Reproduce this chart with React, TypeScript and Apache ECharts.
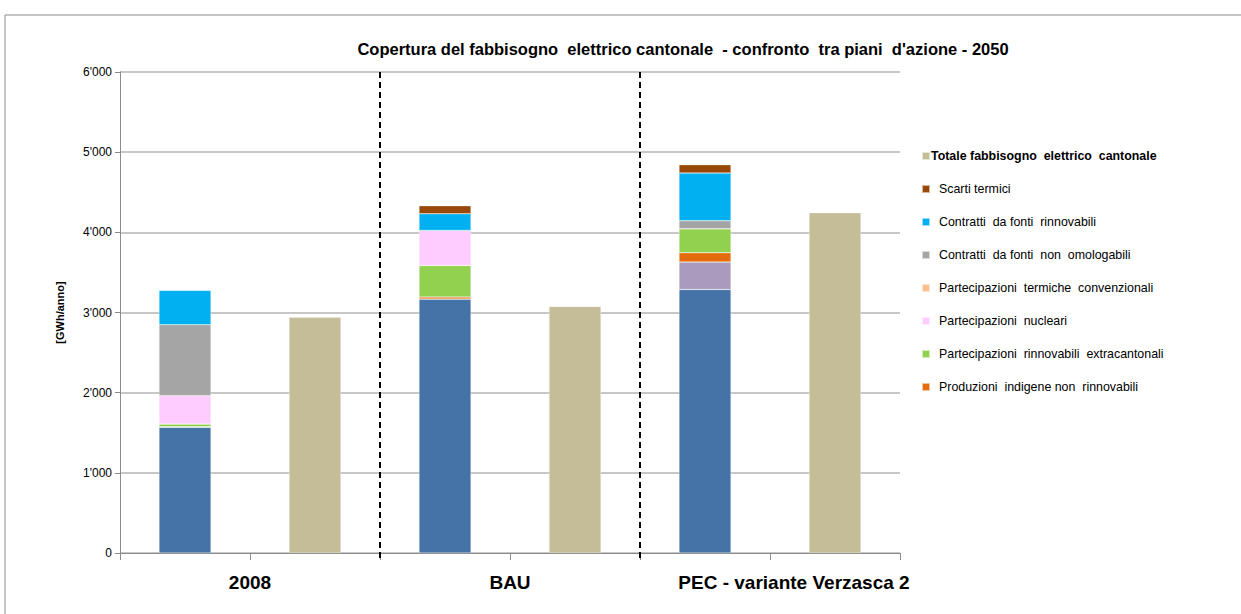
import React, { useEffect, useRef } from "react";
import * as echarts from "echarts";

const categories = ["2008", "2008T", "BAU", "BAUT", "PEC", "PECT"];
const groupLabels = ["2008", "BAU", "PEC - variante Verzasca 2"];
const yTicks = [0, 1000, 2000, 3000, 4000, 5000, 6000];
const separators = [2, 4];

const prodIndigeneRinn = [1570, null, 3167, null, 3287, null];
const efficienza = [0, null, 0, null, 342, null];
const prodIndigeneNonRinn = [5, null, 25, null, 116, null];
const partRinnExtra = [35, null, 395, null, 300, null];
const partTermicheConv = [0, null, 0, null, 0, null];
const partNucleari = [353, null, 437, null, 0, null];
const contrNonOmolog = [885, null, 0, null, 100, null];
const contrRinn = [428, null, 208, null, 595, null];
const scartiTermici = [0, null, 100, null, 104, null];
const totale = [null, 2940, null, 3075, null, 4245];

const FONT = "'Liberation Sans', Arial, sans-serif";

export default function App() {
  const ref = useRef<HTMLDivElement>(null);
  useEffect(() => {
    const chart = echarts.init(ref.current!, null, { renderer: "svg" });
    const stacked = (name: string, data: any[], color: string) => ({
      name,
      type: "bar",
      stack: "s",
      data,
      barWidth: "40%",
      barGap: "-100%",
      itemStyle: { color, borderColor: "rgba(255,255,255,0.6)", borderWidth: 0.5 },
      xAxisIndex: 0,
      yAxisIndex: 0,
    });
    chart.setOption({
      animation: false,
      textStyle: { fontFamily: FONT },
      title: {
        text: "Copertura del fabbisogno  elettrico cantonale  - confronto  tra piani  d'azione - 2050",
        left: 678,
        textAlign: "center",
        top: 35,
        textStyle: { fontSize: 16.5, fontWeight: "bold", color: "#000", fontFamily: FONT },
      },
      graphic: [
        {
          type: "polyline",
          shape: { points: [[5, 614], [5, 15], [1241, 15]] },
          style: { stroke: "#8c8c8c", lineWidth: 1, fill: "none" },
        },
      ],
      legend: {
        orient: "vertical",
        left: 916,
        top: 145,
        itemWidth: 8,
        itemHeight: 8,
        itemGap: 21,
        icon: "rect",
        textStyle: { fontSize: 12.4, color: "#000", fontFamily: FONT, padding: [0, 0, 0, 4] },
        data: [
          { name: "Totale fabbisogno  elettrico  cantonale", textStyle: { fontWeight: "bold", padding: [0, 0, 0, -4] } },
          "Scarti termici",
          "Contratti  da fonti  rinnovabili",
          "Contratti  da fonti  non  omologabili",
          "Partecipazioni  termiche  convenzionali",
          "Partecipazioni  nucleari",
          "Partecipazioni  rinnovabili  extracantonali",
          "Produzioni  indigene non  rinnovabili",
        ],
      },
      grid: { left: 120, right: 341, top: 72, bottom: 61, containLabel: false },
      xAxis: [
        {
          type: "category",
          data: categories,
          axisLine: { lineStyle: { color: "#8c8c8c" } },
          axisTick: { show: true, interval: 0, length: 7, lineStyle: { color: "#8c8c8c" } },
          axisLabel: { show: false },
        },
        {
          type: "category",
          data: [
            groupLabels[0],
            groupLabels[1],
            { value: groupLabels[2], textStyle: { padding: [0, 0, 0, 48] } },
          ],
          position: "bottom",
          axisLine: { show: false },
          axisTick: { show: false },
          axisLabel: { interval: 0, fontSize: 19, fontWeight: "bold", color: "#000", margin: 20, fontFamily: FONT },
        },
        {
          type: "value",
          min: 0,
          max: 6,
          show: false,
        },
      ],
      yAxis: {
        type: "value",
        min: yTicks[0],
        max: yTicks[yTicks.length - 1],
        interval: 1000,
        name: "[GWh/anno]",
        nameLocation: "middle",
        nameGap: 55,
        nameTextStyle: { fontSize: 11, fontWeight: "bold", color: "#000", fontFamily: FONT },
        axisLine: { show: true, lineStyle: { color: "#8c8c8c" } },
        axisTick: { show: true, length: 5, lineStyle: { color: "#8c8c8c" } },
        axisLabel: {
          fontSize: 12,
          color: "#000",
          margin: 8,
          formatter: (v: number) => (v === 0 ? "0" : `${Math.floor(v / 1000)}'${String(v % 1000).padStart(3, "0")}`),
        },
        splitLine: { lineStyle: { color: "#b4b4b4", width: 1.5 } },
      },
      series: [
        stacked("Produzioni indigene rinnovabili", prodIndigeneRinn, "#4572A7"),
        stacked("Efficienza", efficienza, "#AA9BBE"),
        stacked("Produzioni  indigene non  rinnovabili", prodIndigeneNonRinn, "#E46C0A"),
        stacked("Partecipazioni  rinnovabili  extracantonali", partRinnExtra, "#92D050"),
        stacked("Partecipazioni  termiche  convenzionali", partTermicheConv, "#FAC090"),
        stacked("Partecipazioni  nucleari", partNucleari, "#FFCCFF"),
        stacked("Contratti  da fonti  non  omologabili", contrNonOmolog, "#A5A5A5"),
        stacked("Contratti  da fonti  rinnovabili", contrRinn, "#00B0F0"),
        stacked("Scarti termici", scartiTermici, "#984807"),
        {
          name: "Totale fabbisogno  elettrico  cantonale",
          type: "bar",
          stack: "t",
          data: totale,
          barWidth: "40%",
          barGap: "-100%",
          itemStyle: { color: "#C4BD97", borderColor: "rgba(255,255,255,0.6)", borderWidth: 0.5 },
        },
        {
          name: "sep",
          type: "custom",
          xAxisIndex: 2,
          yAxisIndex: 0,
          clip: false,
          silent: true,
          data: separators.map((x) => [x]),
          renderItem: (params: any, api: any) => {
            const v = api.value(0);
            const top = api.coord([v, 6000]);
            const bottom = api.coord([v, 0]);
            return {
              type: "line",
              shape: { x1: top[0], y1: top[1], x2: bottom[0], y2: bottom[1] + 8 },
              style: { stroke: "#000", lineWidth: 2, lineDash: [6, 4] },
            };
          },
        },
      ],
    });
    return () => chart.dispose();
  }, []);
  return (
    <div
      ref={ref}
      style={{ position: "fixed", left: 0, top: 0, width: 1241, height: 614, background: "#fff" }}
    />
  );
}
